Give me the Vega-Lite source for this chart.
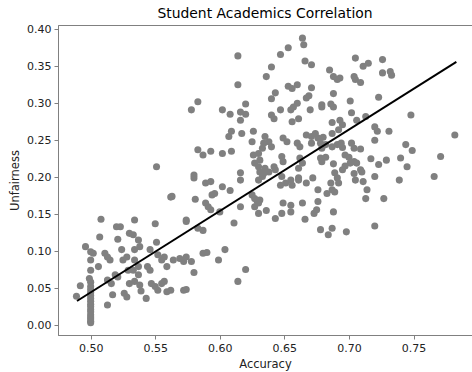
{
"$schema": "https://vega.github.io/schema/vega-lite/v6.json",
"width": 414, "height": 310,
"autosize": {"type": "none"},
"padding": {"left": 58, "top": 25, "right": 0, "bottom": 37},
"background": "white",
"config": {
  "font": "DejaVu Sans",
  "view": {"stroke": "#808080", "strokeWidth": 1},
  "axis": {"grid": false, "domainColor": "#808080", "tickColor": "#808080", "tickSize": 4, "labelFontSize": 11, "labelColor": "#222", "labelPadding": 3, "labelOverlap": false, "titleFontSize": 11.5, "titleFontWeight": "normal", "titleColor": "#222"}
},
"title": {"text": "Student Academics Correlation", "fontSize": 13.9, "fontWeight": "normal", "color": "#000", "baseline": "alphabetic", "offset": 4, "frame": "group", "dy": 13},
"datasets": {
"points": [
{"acc":0.551,"unf":0.214},{"acc":0.562,"unf":0.173},{"acc":0.508,"unf":0.143},{"acc":0.534,"unf":0.142},{"acc":0.520,"unf":0.133},{"acc":0.523,"unf":0.133},{"acc":0.550,"unf":0.137},{"acc":0.574,"unf":0.142},{"acc":0.530,"unf":0.124},{"acc":0.533,"unf":0.122},{"acc":0.507,"unf":0.119},{"acc":0.521,"unf":0.116},{"acc":0.537,"unf":0.115},{"acc":0.551,"unf":0.112},{"acc":0.496,"unf":0.106},{"acc":0.524,"unf":0.102},{"acc":0.502,"unf":0.097},{"acc":0.511,"unf":0.097},{"acc":0.513,"unf":0.092},{"acc":0.534,"unf":0.102},{"acc":0.538,"unf":0.106},{"acc":0.546,"unf":0.102},{"acc":0.528,"unf":0.092},{"acc":0.525,"unf":0.088},{"acc":0.500,"unf":0.088},{"acc":0.506,"unf":0.079},{"acc":0.515,"unf":0.088},{"acc":0.552,"unf":0.095},{"acc":0.555,"unf":0.088},{"acc":0.557,"unf":0.092},{"acc":0.564,"unf":0.088},{"acc":0.569,"unf":0.090},{"acc":0.574,"unf":0.092},{"acc":0.534,"unf":0.088},{"acc":0.537,"unf":0.079},{"acc":0.544,"unf":0.079},{"acc":0.546,"unf":0.074},{"acc":0.559,"unf":0.079},{"acc":0.500,"unf":0.074},{"acc":0.529,"unf":0.074},{"acc":0.533,"unf":0.074},{"acc":0.519,"unf":0.068},{"acc":0.521,"unf":0.065},{"acc":0.537,"unf":0.068},{"acc":0.499,"unf":0.063},{"acc":0.513,"unf":0.061},{"acc":0.516,"unf":0.056},{"acc":0.530,"unf":0.056},{"acc":0.534,"unf":0.059},{"acc":0.538,"unf":0.054},{"acc":0.547,"unf":0.056},{"acc":0.550,"unf":0.052},{"acc":0.555,"unf":0.056},{"acc":0.557,"unf":0.059},{"acc":0.552,"unf":0.047},{"acc":0.559,"unf":0.045},{"acc":0.572,"unf":0.047},{"acc":0.574,"unf":0.048},{"acc":0.492,"unf":0.053},{"acc":0.539,"unf":0.046},{"acc":0.526,"unf":0.043},{"acc":0.528,"unf":0.038},{"acc":0.517,"unf":0.041},{"acc":0.489,"unf":0.039},{"acc":0.543,"unf":0.036},{"acc":0.513,"unf":0.027},
{"acc":0.500,"unf":0.099},{"acc":0.500,"unf":0.058},{"acc":0.500,"unf":0.052},{"acc":0.500,"unf":0.048},{"acc":0.500,"unf":0.044},{"acc":0.500,"unf":0.040},{"acc":0.500,"unf":0.036},{"acc":0.500,"unf":0.032},{"acc":0.500,"unf":0.028},{"acc":0.500,"unf":0.025},{"acc":0.500,"unf":0.021},{"acc":0.500,"unf":0.018},{"acc":0.500,"unf":0.014},{"acc":0.500,"unf":0.011},{"acc":0.500,"unf":0.008},{"acc":0.500,"unf":0.005},{"acc":0.500,"unf":0.003},
{"acc":0.580,"unf":0.203},{"acc":0.580,"unf":0.199},{"acc":0.589,"unf":0.192},{"acc":0.593,"unf":0.194},{"acc":0.616,"unf":0.206},{"acc":0.616,"unf":0.196},{"acc":0.602,"unf":0.187},{"acc":0.608,"unf":0.182},{"acc":0.594,"unf":0.176},{"acc":0.596,"unf":0.178},{"acc":0.563,"unf":0.174},{"acc":0.581,"unf":0.170},{"acc":0.589,"unf":0.165},{"acc":0.591,"unf":0.160},{"acc":0.593,"unf":0.156},{"acc":0.600,"unf":0.153},{"acc":0.616,"unf":0.160},{"acc":0.625,"unf":0.176},{"acc":0.627,"unf":0.171},{"acc":0.629,"unf":0.167},{"acc":0.630,"unf":0.165},{"acc":0.627,"unf":0.160},{"acc":0.630,"unf":0.151},{"acc":0.636,"unf":0.155},{"acc":0.631,"unf":0.169},{"acc":0.647,"unf":0.189},{"acc":0.651,"unf":0.192},{"acc":0.655,"unf":0.196},{"acc":0.656,"unf":0.189},{"acc":0.661,"unf":0.196},{"acc":0.649,"unf":0.165},{"acc":0.655,"unf":0.162},{"acc":0.655,"unf":0.153},{"acc":0.643,"unf":0.144},{"acc":0.648,"unf":0.151},{"acc":0.664,"unf":0.165},{"acc":0.666,"unf":0.143},{"acc":0.673,"unf":0.151},{"acc":0.675,"unf":0.156},{"acc":0.676,"unf":0.167},{"acc":0.672,"unf":0.199},{"acc":0.676,"unf":0.183},{"acc":0.574,"unf":0.140},{"acc":0.583,"unf":0.131},{"acc":0.587,"unf":0.128},{"acc":0.611,"unf":0.138},{"acc":0.604,"unf":0.102},{"acc":0.587,"unf":0.097},{"acc":0.590,"unf":0.098},{"acc":0.599,"unf":0.088},{"acc":0.620,"unf":0.075},{"acc":0.614,"unf":0.059},{"acc":0.572,"unf":0.086},{"acc":0.578,"unf":0.086},{"acc":0.580,"unf":0.071},{"acc":0.562,"unf":0.047},{"acc":0.678,"unf":0.129},
{"acc":0.607,"unf":0.255},{"acc":0.609,"unf":0.262},{"acc":0.617,"unf":0.259},{"acc":0.626,"unf":0.262},{"acc":0.625,"unf":0.248},{"acc":0.635,"unf":0.255},{"acc":0.634,"unf":0.246},{"acc":0.633,"unf":0.239},{"acc":0.638,"unf":0.248},{"acc":0.640,"unf":0.241},{"acc":0.649,"unf":0.253},{"acc":0.652,"unf":0.248},{"acc":0.660,"unf":0.246},{"acc":0.662,"unf":0.241},{"acc":0.667,"unf":0.257},{"acc":0.671,"unf":0.255},{"acc":0.674,"unf":0.259},{"acc":0.676,"unf":0.253},{"acc":0.678,"unf":0.246},{"acc":0.671,"unf":0.246},{"acc":0.679,"unf":0.239},{"acc":0.583,"unf":0.237},{"acc":0.587,"unf":0.230},{"acc":0.593,"unf":0.235},{"acc":0.602,"unf":0.232},{"acc":0.609,"unf":0.235},{"acc":0.626,"unf":0.230},{"acc":0.630,"unf":0.232},{"acc":0.631,"unf":0.223},{"acc":0.648,"unf":0.228},{"acc":0.649,"unf":0.221},{"acc":0.662,"unf":0.226},{"acc":0.664,"unf":0.219},{"acc":0.678,"unf":0.226},{"acc":0.679,"unf":0.221},{"acc":0.630,"unf":0.214},{"acc":0.631,"unf":0.207},{"acc":0.634,"unf":0.205},{"acc":0.635,"unf":0.212},{"acc":0.642,"unf":0.214},{"acc":0.643,"unf":0.210},{"acc":0.638,"unf":0.207},{"acc":0.630,"unf":0.196},{"acc":0.633,"unf":0.201},{"acc":0.661,"unf":0.212},{"acc":0.661,"unf":0.199},{"acc":0.627,"unf":0.219},{"acc":0.648,"unf":0.201},{"acc":0.667,"unf":0.192},
{"acc":0.664,"unf":0.388},{"acc":0.665,"unf":0.379},{"acc":0.653,"unf":0.375},{"acc":0.647,"unf":0.366},{"acc":0.614,"unf":0.364},{"acc":0.666,"unf":0.357},{"acc":0.671,"unf":0.352},{"acc":0.640,"unf":0.349},{"acc":0.636,"unf":0.336},{"acc":0.614,"unf":0.325},{"acc":0.653,"unf":0.323},{"acc":0.656,"unf":0.320},{"acc":0.660,"unf":0.325},{"acc":0.671,"unf":0.321},{"acc":0.643,"unf":0.314},{"acc":0.640,"unf":0.306},{"acc":0.669,"unf":0.310},{"acc":0.667,"unf":0.307},{"acc":0.679,"unf":0.295},{"acc":0.583,"unf":0.302},{"acc":0.578,"unf":0.291},{"acc":0.602,"unf":0.291},{"acc":0.608,"unf":0.285},{"acc":0.620,"unf":0.299},{"acc":0.616,"unf":0.288},{"acc":0.620,"unf":0.285},{"acc":0.616,"unf":0.277},{"acc":0.640,"unf":0.284},{"acc":0.642,"unf":0.279},{"acc":0.647,"unf":0.291},{"acc":0.655,"unf":0.291},{"acc":0.657,"unf":0.295},{"acc":0.660,"unf":0.300},{"acc":0.670,"unf":0.291},{"acc":0.656,"unf":0.275},{"acc":0.661,"unf":0.279},
{"acc":0.705,"unf":0.361},{"acc":0.711,"unf":0.350},{"acc":0.715,"unf":0.354},{"acc":0.726,"unf":0.359},{"acc":0.685,"unf":0.345},{"acc":0.688,"unf":0.336},{"acc":0.691,"unf":0.332},{"acc":0.693,"unf":0.334},{"acc":0.704,"unf":0.336},{"acc":0.705,"unf":0.332},{"acc":0.709,"unf":0.328},{"acc":0.726,"unf":0.341},{"acc":0.732,"unf":0.343},{"acc":0.733,"unf":0.338},{"acc":0.688,"unf":0.313},{"acc":0.679,"unf":0.298},{"acc":0.686,"unf":0.299},{"acc":0.688,"unf":0.295},{"acc":0.701,"unf":0.303},{"acc":0.723,"unf":0.308},{"acc":0.702,"unf":0.287},{"acc":0.706,"unf":0.277},{"acc":0.713,"unf":0.282},{"acc":0.748,"unf":0.284},{"acc":0.687,"unf":0.274},{"acc":0.693,"unf":0.277},{"acc":0.695,"unf":0.271},{"acc":0.692,"unf":0.264},{"acc":0.687,"unf":0.259},{"acc":0.720,"unf":0.268},{"acc":0.722,"unf":0.262},{"acc":0.731,"unf":0.262},{"acc":0.782,"unf":0.257},
{"acc":0.720,"unf":0.250},{"acc":0.680,"unf":0.254},{"acc":0.682,"unf":0.244},{"acc":0.687,"unf":0.241},{"acc":0.691,"unf":0.244},{"acc":0.694,"unf":0.246},{"acc":0.695,"unf":0.240},{"acc":0.702,"unf":0.246},{"acc":0.704,"unf":0.239},{"acc":0.709,"unf":0.238},{"acc":0.744,"unf":0.244},{"acc":0.749,"unf":0.236},{"acc":0.771,"unf":0.228},{"acc":0.682,"unf":0.227},{"acc":0.688,"unf":0.218},{"acc":0.689,"unf":0.206},{"acc":0.695,"unf":0.210},{"acc":0.697,"unf":0.215},{"acc":0.697,"unf":0.230},{"acc":0.700,"unf":0.227},{"acc":0.701,"unf":0.219},{"acc":0.704,"unf":0.221},{"acc":0.706,"unf":0.219},{"acc":0.709,"unf":0.210},{"acc":0.704,"unf":0.205},{"acc":0.705,"unf":0.196},{"acc":0.710,"unf":0.207},{"acc":0.711,"unf":0.194},{"acc":0.714,"unf":0.183},{"acc":0.713,"unf":0.171},{"acc":0.717,"unf":0.225},{"acc":0.723,"unf":0.217},{"acc":0.720,"unf":0.201},{"acc":0.727,"unf":0.171},{"acc":0.729,"unf":0.223},{"acc":0.740,"unf":0.226},{"acc":0.745,"unf":0.214},{"acc":0.739,"unf":0.196},{"acc":0.766,"unf":0.201},{"acc":0.683,"unf":0.178},{"acc":0.686,"unf":0.192},{"acc":0.687,"unf":0.183},{"acc":0.692,"unf":0.192},{"acc":0.689,"unf":0.180},{"acc":0.691,"unf":0.199},{"acc":0.688,"unf":0.153},{"acc":0.684,"unf":0.122},{"acc":0.687,"unf":0.131},{"acc":0.698,"unf":0.126},{"acc":0.720,"unf":0.134}
],
"fit": [{"acc":0.4894,"unf":0.0325},{"acc":0.7832,"unf":0.356}]
},
"encoding": {
  "x": {"field": "acc", "type": "quantitative", "scale": {"domain": [0.4747, 0.7953], "nice": false, "zero": false}, "axis": {"values": [0.5, 0.55, 0.6, 0.65, 0.7, 0.75], "format": ".2f", "title": "Accuracy", "titlePadding": 5}},
  "y": {"field": "unf", "type": "quantitative", "scale": {"domain": [-0.0135, 0.4058], "nice": false, "zero": false}, "axis": {"values": [0, 0.05, 0.1, 0.15, 0.2, 0.25, 0.3, 0.35, 0.4], "format": ".2f", "title": "Unfairness", "titlePadding": 6}}
},
"layer": [
  {"data": {"name": "points"},
   "mark": {"type": "circle", "size": 50, "color": "#808080", "opacity": 1}},
  {"data": {"name": "fit"},
   "mark": {"type": "line", "color": "#000000", "strokeWidth": 2}}
]
}
